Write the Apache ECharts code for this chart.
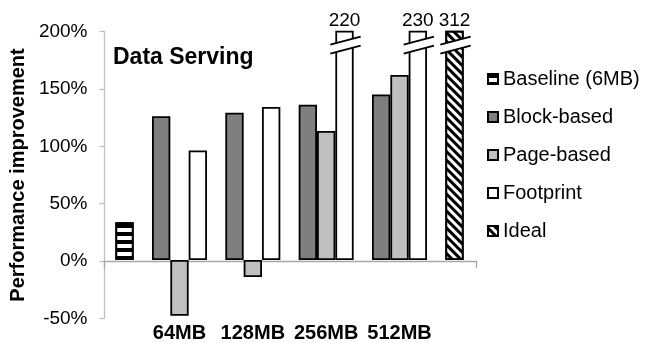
<!DOCTYPE html>
<html>
<head>
<meta charset="utf-8">
<script src="https://cdn.jsdelivr.net/npm/echarts@6.0.0/dist/echarts.min.js"></script>
<style>
  html, body { margin: 0; padding: 0; background: #fff; }
  #chart { width: 648px; height: 343px; }
</style>
</head>
<body>
<div id="chart"></div>
<script>
// Cache sizes and performance improvement (%) per design
const sizes = ['64MB', '128MB', '256MB', '512MB'];
const blockBased = [126, 129, 136, 145];
const pageBased = [-49, -15, 113, 162];
const footprint = [96, 134, 220, 230];
const baseline = 33;   // Baseline (6MB)
const ideal = 312;

// Value axis range and tick step
const Y_MIN = -50, Y_MAX = 200, Y_STEP = 50;

const FONT = '"Liberation Sans", Arial, Helvetica, sans-serif';

// Bar slots: the baseline bar, the four cache sizes, the ideal bar
const cats = [''].concat(sizes, ['']);
const last = cats.length - 1;
const pad = arr => [null].concat(arr, [null]);
const baselineData = cats.map((_, i) => (i === 0 ? baseline : null));
const idealData = cats.map((_, i) => (i === last ? ideal : null));

// Bars that run past the top of the axis get a break mark and a value label
const footprintBreaks = [];
footprint.forEach((v, i) => { if (v > Y_MAX) footprintBreaks.push([i + 1, v]); });
const idealBreaks = ideal > Y_MAX ? [[last, ideal]] : [];

const GAP = 0.25;   // share of a category left empty between bar clusters
const SLOTS = 3;    // bars per cluster

function breakSeries(points, slot) {
  return {
    type: 'custom',
    xAxisIndex: 1, yAxisIndex: 1,
    z: 5,
    silent: true,
    clip: false,
    data: points,
    renderItem(params, api) {
      const top = api.coord([api.value(0), Y_MAX]);
      const catW = api.size([1, 0])[0];
      const barW = catW * (1 - GAP) / SLOTS;
      const cx = top[0] + slot * barW;
      const l = cx - barW / 2 - 5;
      const r = cx + barW / 2 + 7;
      const yU = top[1] + 9;
      const yL = top[1] + 18;
      const rise = 4;
      return {
        type: 'group',
        children: [
          { type: 'polygon', shape: { points: [[l, yU + rise], [r, yU - rise], [r, yL - rise], [l, yL + rise]] },
            style: { fill: '#fff', stroke: null } },
          { type: 'line', shape: { x1: l, y1: yU + rise, x2: r, y2: yU - rise },
            style: { stroke: '#000', lineWidth: 1.8 } },
          { type: 'line', shape: { x1: l, y1: yL + rise, x2: r, y2: yL - rise },
            style: { stroke: '#000', lineWidth: 1.8 } },
          { type: 'text', style: { text: String(api.value(1)), x: cx, y: top[1] - 1,
            align: 'center', verticalAlign: 'bottom', fontSize: 19, fontFamily: FONT, fill: '#000' } }
        ]
      };
    }
  };
}

const border = { borderColor: '#000', borderWidth: 1.8 };
const barCommon = {
  type: 'bar', xAxisIndex: 1, yAxisIndex: 1,
  barGap: '0%', barCategoryGap: (GAP * 100) + '%'
};

const chart = echarts.init(document.getElementById('chart'), null, { renderer: 'canvas' });
chart.setOption({
  animation: false,
  backgroundColor: '#fff',
  title: {
    text: 'Data Serving', left: 113, top: 46, padding: 0,
    textStyle: { fontSize: 23, fontWeight: 'bold', color: '#000', fontFamily: FONT }
  },
  legend: {
    data: ['Baseline (6MB)', 'Block-based', 'Page-based', 'Footprint', 'Ideal'],
    orient: 'vertical', left: 487, top: 69, padding: 0,
    itemWidth: 10, itemHeight: 10, itemGap: 18, icon: 'rect',
    textStyle: { fontSize: 20, color: '#000', fontFamily: FONT }
  },
  grid: [
    { left: 100, top: 31.7, width: 376.7, height: 286.6 },
    { left: 69.5, top: 31.7, width: 440, height: 286.6 }
  ],
  xAxis: [
    { gridIndex: 0, type: 'category', data: [''], boundaryGap: true,
      axisLine: { onZero: true, lineStyle: { color: '#a6a6a6', width: 1.3 } },
      axisTick: { show: true, length: 7, lineStyle: { color: '#a6a6a6', width: 1.3 } },
      axisLabel: { show: false }, splitLine: { show: false } },
    { gridIndex: 1, type: 'category', data: cats,
      axisLine: { show: false, onZero: false }, axisTick: { show: false },
      axisLabel: { interval: 0, margin: 6, fontSize: 20, fontWeight: 'bold', color: '#000', fontFamily: FONT },
      splitLine: { show: false } }
  ],
  yAxis: [
    { gridIndex: 0, type: 'value', min: Y_MIN, max: Y_MAX, interval: Y_STEP,
      axisLine: { show: true, lineStyle: { color: '#bfbfbf', width: 1.3 } },
      axisTick: { show: true, length: 5, lineStyle: { color: '#bfbfbf', width: 1.3 } },
      splitLine: { show: false },
      axisLabel: { formatter: '{value}%', margin: 17, fontSize: 19, color: '#000', fontFamily: FONT },
      name: 'Performance improvement', nameLocation: 'middle', nameGap: 71,
      nameTextStyle: { fontSize: 20, fontWeight: 'bold', color: '#000', fontFamily: FONT } },
    { gridIndex: 1, type: 'value', min: Y_MIN, max: Y_MAX, interval: Y_STEP, show: false }
  ],
  series: [
    Object.assign({}, barCommon, { name: 'Block-based', stack: 'a', data: pad(blockBased),
      itemStyle: Object.assign({ color: '#7f7f7f' }, border) }),
    Object.assign({}, barCommon, { name: 'Page-based', stack: 'b', data: pad(pageBased),
      itemStyle: Object.assign({ color: '#bfbfbf' }, border) }),
    Object.assign({}, barCommon, { name: 'Footprint', stack: 'c', data: pad(footprint),
      itemStyle: Object.assign({ color: '#fff' }, border) }),
    Object.assign({}, barCommon, { name: 'Baseline (6MB)', stack: 'c', data: baselineData,
      itemStyle: Object.assign({ color: '#fff',
        decal: { symbol: 'rect', symbolSize: 1, color: '#000', dashArrayX: [1, 0], dashArrayY: [4, 4], rotation: 0 } }, border) }),
    Object.assign({}, barCommon, { name: 'Ideal', stack: 'a', data: idealData,
      itemStyle: Object.assign({ color: '#fff',
        decal: { symbol: 'rect', symbolSize: 1, color: '#000', dashArrayX: [1, 0], dashArrayY: [3, 3], rotation: Math.PI / 4 } }, border) }),
    breakSeries(footprintBreaks, 1),
    breakSeries(idealBreaks, -1)
  ]
});
</script>
</body>
</html>
